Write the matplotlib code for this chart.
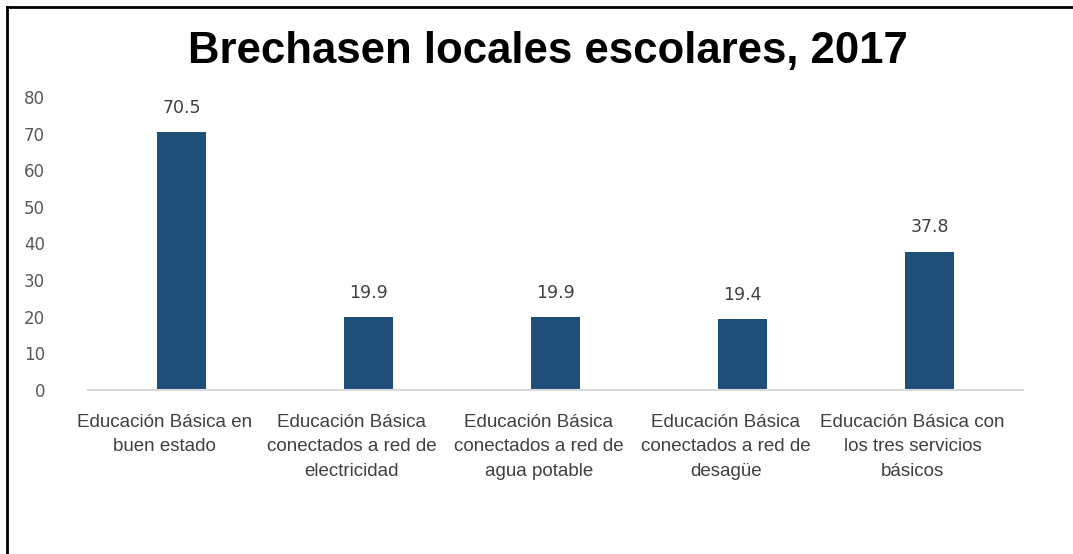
import numpy as np
import matplotlib.pyplot as plt
from matplotlib.lines import Line2D

# datos del gráfico
categorias = ['Educación Básica en\nbuen estado',
              'Educación Básica\nconectados a red de\nelectricidad',
              'Educación Básica\nconectados a red de\nagua potable',
              'Educación Básica\nconectados a red de\ndesagüe',
              'Educación Básica con\nlos tres servicios\nbásicos']
valores = [70.5, 19.9, 19.9, 19.4, 37.8]
etiquetas = ['70.5', '19.9', '19.9', '19.4', '37.8']
y_ticks = [0, 10, 20, 30, 40, 50, 60, 70, 80]

W, H = 1073, 554
fig = plt.figure(figsize=(W / 100, H / 100), dpi=100)
ax = fig.add_axes([88 / W, 1 - 390 / H, (1023 - 88) / W, (390 - 97) / H])

x = np.arange(len(valores))
ax.bar(x, valores, width=0.26, color='#1f4e79')

for xi, v, t in zip(x, valores, etiquetas):
    ax.annotate(t, (xi, v), xytext=(0, 11), textcoords='offset points',
                ha='center', va='bottom', fontsize=12.5, color='#404040',
                family=['DejaVu Sans'])

ax.set_xlim(-0.5, len(valores) - 0.5)
ax.set_ylim(0, 80)
ax.set_yticks(y_ticks)
ax.set_yticklabels([str(t) for t in y_ticks], fontsize=12, color='#595959')
ax.set_xticks(x - 0.09)
ax.set_xticklabels(categorias, fontsize=13.5, color='#404040',
                   family=['Liberation Sans'], linespacing=1.6)
ax.tick_params(axis='both', length=0)
ax.tick_params(axis='y', pad=31)
ax.tick_params(axis='x', pad=17)

for s in ['top', 'right', 'left']:
    ax.spines[s].set_visible(False)
ax.spines['bottom'].set_color('#d9d9d9')
ax.spines['bottom'].set_linewidth(1.5)

fig.text(548 / W, 1 - 52 / H, 'Brechasen locales escolares, 2017',
         ha='center', va='center', fontsize=31.5, fontweight='bold',
         family=['Liberation Sans'], color='black')

# marco exterior
fig.add_artist(Line2D([7 / W, 7 / W], [0, 1 - 7 / H], color='black', lw=2,
                      transform=fig.transFigure))
fig.add_artist(Line2D([7 / W, 1], [1 - 7 / H, 1 - 7 / H], color='black', lw=2,
                      transform=fig.transFigure))

fig.savefig('out.png', dpi=100)
